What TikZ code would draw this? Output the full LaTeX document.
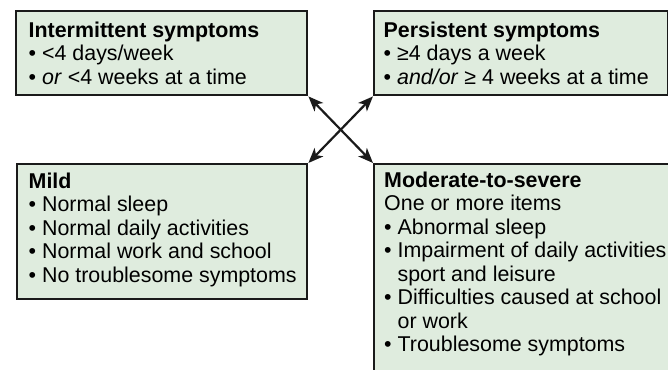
\documentclass[tikz,border=0pt]{standalone}
\usepackage{fontspec}
\setmainfont{Liberation Sans}
\usetikzlibrary{arrows.meta}
\definecolor{boxfill}{HTML}{DFECDE}
\definecolor{ink}{HTML}{1A1A1A}
\begin{document}
\begin{tikzpicture}[x=1pt,y=1pt,
  box/.style={draw=ink, line width=2.4pt, fill=boxfill, anchor=north west, inner sep=0pt},
  txt/.style={anchor=north west, inner sep=0pt, align=left, font=\fontsize{21.4}{23.5}\selectfont, text=black},
  link/.style={draw=ink, line width=2.2pt, {Stealth[length=15pt,width=12pt,inset=4pt]}-{Stealth[length=15pt,width=12pt,inset=4pt]}}]
\useasboundingbox (0,0) rectangle (668,369);
\clip (0,0) rectangle (668,369);
\node[box, minimum width=291pt, minimum height=84pt] (inter) at (15,359) {};
\node[box, minimum width=294pt, minimum height=84pt] (pers) at (373,359) {};
\node[box, minimum width=290pt, minimum height=135pt] (mild) at (16,206) {};
\node[box, minimum width=330pt, minimum height=240pt] (mod) at (373,206) {};
\node[txt] (interT) at (28.5,347.5) {\textbf{Intermittent symptoms}\\
• <4 days/week\\
• \textit{or} <4 weeks at a time};
\node[txt] (persT) at (383.5,347.5) {\textbf{Persistent symptoms}\\
• ≥4 days a week\\
• \textit{and/or} ≥ 4 weeks at a time};
\node[txt] (mildT) at (28.5,196.5) {\textbf{Mild}\\
• Normal sleep\\
• Normal daily activities\\
• Normal work and school\\
• No troublesome symptoms};
\node[txt] (modT) at (384,197.5) {\textbf{Moderate-to-severe}\\
One or more items\\
• Abnormal sleep\\
• Impairment of daily activities,\\
\hphantom{•\ }sport and leisure\\
• Difficulties caused at school\\
\hphantom{•\ }or work\\
• Troublesome symptoms};
\draw[link] (inter.south east) -- (mod.north west);
\draw[link] (pers.south west) -- (mild.north east);
\end{tikzpicture}
\end{document}
